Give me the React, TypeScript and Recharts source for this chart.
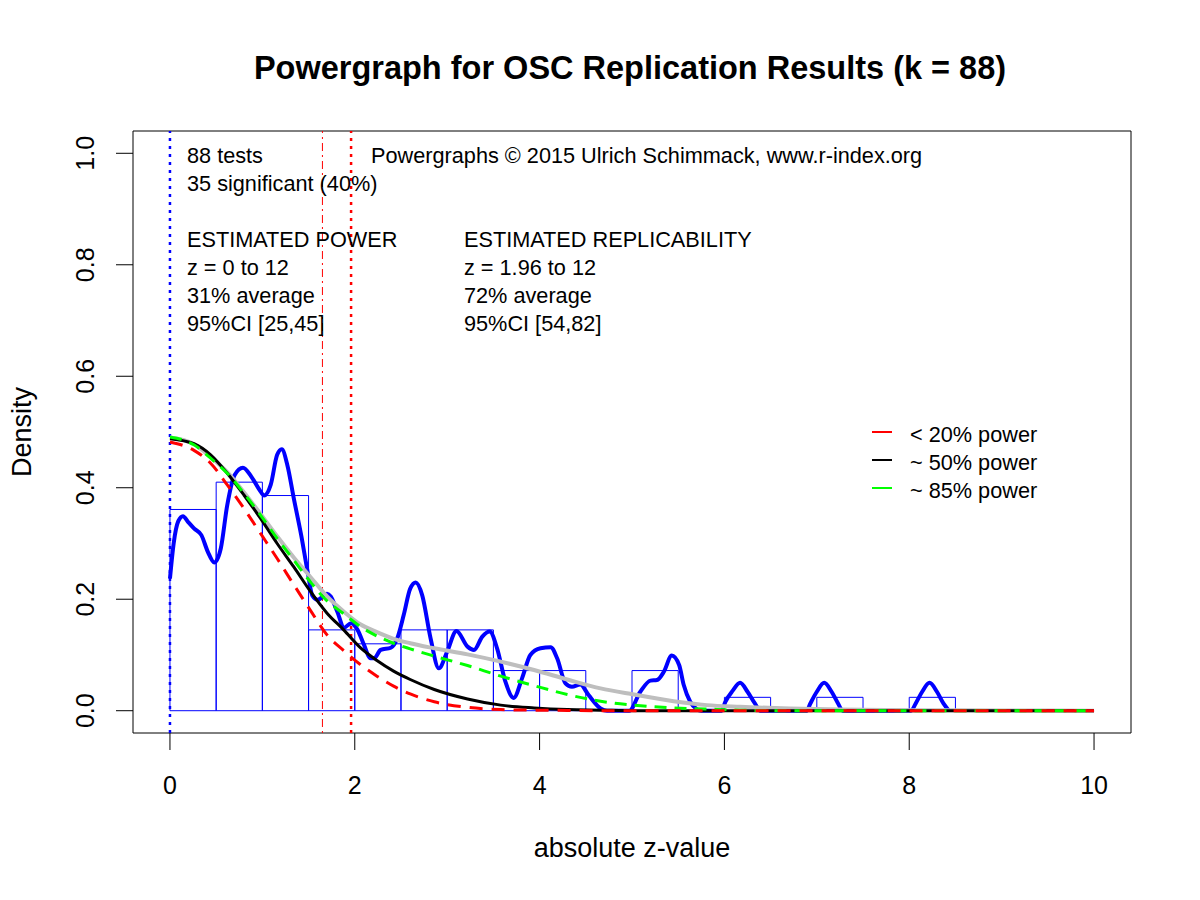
import { ComposedChart, Line, XAxis, YAxis, ReferenceArea, ReferenceLine } from "recharts";

// histogram of absolute z-values (bin width 0.5)
const binStarts = [0, 0.5, 1, 1.5, 2, 2.5, 3, 3.5, 4, 4.5, 5, 5.5, 6, 6.5, 7, 7.5, 8];
const binDensity = [
  0.361, 0.41, 0.386, 0.145, 0.12, 0.145, 0.145, 0.072, 0.072, 0, 0.072, 0, 0.024, 0, 0.024, 0, 0.024,
];

// model curves
const curveZ = [
  0, 0.26, 0.44, 0.62, 0.8, 0.98, 1.16, 1.34, 1.52, 1.7, 1.88, 2.06, 2.24, 2.42, 2.6, 2.86, 3.22,
  3.58, 3.94, 4.3, 4.66, 5.02, 5.45, 5.81, 6.17, 6.71, 7.25, 8, 9, 10,
];
const lowPower = [
  0.482, 0.467, 0.444, 0.405, 0.363, 0.318, 0.273, 0.226, 0.18, 0.136, 0.108, 0.083, 0.062, 0.044,
  0.03, 0.016, 0.006, 0.002, 0.001, 0.0005, 0, 0, 0, 0, 0, 0, 0, 0, 0, 0,
];
const midPower = [
  0.488, 0.479, 0.459, 0.426, 0.387, 0.345, 0.3, 0.258, 0.214, 0.175, 0.145, 0.113, 0.09, 0.071,
  0.056, 0.038, 0.021, 0.01, 0.005, 0.002, 0.001, 0, 0, 0, 0, 0, 0, 0, 0, 0,
];
const highPower = [
  0.491, 0.477, 0.453, 0.426, 0.39, 0.351, 0.309, 0.27, 0.231, 0.197, 0.174, 0.151, 0.134, 0.121,
  0.111, 0.098, 0.081, 0.062, 0.045, 0.029, 0.017, 0.01, 0.005, 0.003, 0.001, 0, 0, 0, 0, 0,
];
const fittedDensity = [
  0.49, 0.478, 0.455, 0.428, 0.392, 0.353, 0.313, 0.275, 0.24, 0.205, 0.178, 0.155, 0.141, 0.129,
  0.121, 0.112, 0.101, 0.088, 0.073, 0.056, 0.04, 0.029, 0.017, 0.01, 0.007, 0.004, 0.002, 0.001,
  0.0005, 0,
];

// kernel density of observed z-values
const kdeZ = [
  0, 0.04, 0.09, 0.14, 0.2, 0.26, 0.34, 0.41, 0.48, 0.55, 0.62, 0.7, 0.79, 0.88, 0.97, 1.02, 1.09,
  1.16, 1.21, 1.27, 1.34, 1.42, 1.49, 1.54, 1.6, 1.7, 1.74, 1.81, 1.885, 1.96, 2.03, 2.1, 2.17, 2.21,
  2.28, 2.39, 2.46, 2.53, 2.6, 2.66, 2.73, 2.82, 2.91, 3.0, 3.1, 3.22, 3.29, 3.38, 3.46, 3.54, 3.63,
  3.72, 3.81, 3.9, 4.01, 4.12, 4.19, 4.28, 4.35, 4.44, 4.53, 4.66, 4.73, 4.97, 5.09, 5.2, 5.27,
  5.345, 5.43, 5.51, 5.56, 5.63, 5.7, 5.75, 5.97, 6.01, 6.09, 6.17, 6.25, 6.33, 6.39, 6.89, 6.93,
  7.0, 7.08, 7.16, 7.23, 7.28, 8.02, 8.07, 8.14, 8.22, 8.3, 8.37, 8.43,
];
const kdeDensity = [
  0.237, 0.3, 0.34, 0.349, 0.338, 0.327, 0.315, 0.285, 0.266, 0.291, 0.369, 0.423, 0.436, 0.42,
  0.396, 0.386, 0.405, 0.459, 0.469, 0.441, 0.381, 0.315, 0.249, 0.207, 0.199, 0.21, 0.205, 0.178,
  0.149, 0.157, 0.145, 0.118, 0.094, 0.094, 0.109, 0.113, 0.13, 0.172, 0.219, 0.23, 0.207, 0.13,
  0.076, 0.106, 0.143, 0.115, 0.109, 0.133, 0.142, 0.112, 0.052, 0.023, 0.058, 0.1, 0.112, 0.114,
  0.094, 0.049, 0.043, 0.047, 0.028, 0.004, 0, 0, 0.034, 0.054, 0.055, 0.07, 0.099, 0.082, 0.046,
  0.016, 0.003, 0, 0, 0.016, 0.036, 0.05, 0.034, 0.013, 0, 0, 0.013, 0.034, 0.05, 0.034, 0.013, 0,
  0, 0.013, 0.034, 0.05, 0.034, 0.013, 0,
];

const xTicks = [0, 2, 4, 6, 8, 10];
const yTicks = [0, 0.2, 0.4, 0.6, 0.8, 1];

const leftNotes = ["ESTIMATED POWER", "z = 0 to 12", "31% average", "95%CI [25,45]"];
const rightNotes = ["ESTIMATED REPLICABILITY", "z = 1.96 to 12", "72% average", "95%CI [54,82]"];
const legendItems = [
  { label: "< 20% power", color: "#FF0000" },
  { label: "~ 50% power", color: "#000000" },
  { label: "~ 85% power", color: "#00FF00" },
];

const FONT = "'Liberation Sans', Arial, sans-serif";

const toSeries = (ys: number[]) => curveZ.map((z, i) => ({ z, y: ys[i] }));
const kdeData = kdeZ.map((z, i) => ({ z, y: kdeDensity[i] }));

const YTick = (props: any) => {
  const { x, y, payload } = props;
  return (
    <text
      x={x}
      y={y}
      transform={`rotate(-90 ${x} ${y})`}
      textAnchor="middle"
      dominantBaseline="central"
      fontSize={25}
      fontFamily={FONT}
      fill="#000"
    >
      {Number(payload.value).toFixed(1)}
    </text>
  );
};

export default function App() {
  return (
    <div style={{ position: "absolute", left: 0, top: 0, width: 1200, height: 900, background: "#fff" }}>
      <ComposedChart width={1200} height={900} margin={{ top: 131, right: 69, bottom: 0, left: 0 }}>
        <XAxis
          dataKey="z"
          type="number"
          domain={[-0.4, 10.4]}
          ticks={xTicks}
          allowDataOverflow
          height={167}
          axisLine={false}
          tickSize={17}
          tickMargin={26}
          tickLine={{ stroke: "#000" }}
          tick={{ fontSize: 25, fill: "#000", fontFamily: FONT }}
        />
        <YAxis
          type="number"
          domain={[-0.04, 1.04]}
          ticks={yTicks}
          allowDataOverflow
          width={133}
          axisLine={false}
          tickSize={17}
          tickMargin={31}
          tickLine={{ stroke: "#000" }}
          tick={<YTick />}
        />
        <ReferenceArea x1={-0.4} x2={10.4} y1={-0.04} y2={1.04} fill="none" stroke="#000" strokeWidth={1} />
        {binStarts.map((b, i) => (
          <ReferenceArea
            key={b}
            x1={b}
            x2={b + 0.5}
            y1={0}
            y2={binDensity[i]}
            fill="none"
            fillOpacity={0}
            stroke="#0000FF"
            strokeWidth={1}
          />
        ))}
        <ReferenceLine x={0} stroke="#0000FF" strokeWidth={2.5} strokeDasharray="3 5" />
        <ReferenceLine x={1.65} stroke="#FF0000" strokeWidth={1} strokeDasharray="2 4 8 4" />
        <ReferenceLine x={1.96} stroke="#FF0000" strokeWidth={2.5} strokeDasharray="3 5" />
        <Line data={kdeData} dataKey="y" type="monotone" stroke="#0000FF" strokeWidth={4} dot={false} activeDot={false} isAnimationActive={false} />
        <Line data={toSeries(fittedDensity)} dataKey="y" type="monotone" stroke="#BEBEBE" strokeWidth={4} dot={false} activeDot={false} isAnimationActive={false} />
        <Line data={toSeries(midPower)} dataKey="y" type="monotone" stroke="#000000" strokeWidth={3} dot={false} activeDot={false} isAnimationActive={false} />
        <Line data={toSeries(highPower)} dataKey="y" type="monotone" stroke="#00FF00" strokeWidth={3} strokeDasharray="12 8" dot={false} activeDot={false} isAnimationActive={false} />
        <Line data={toSeries(lowPower)} dataKey="y" type="monotone" stroke="#FF0000" strokeWidth={3} strokeDasharray="13 9" dot={false} activeDot={false} isAnimationActive={false} />
      </ComposedChart>
      <svg width={1200} height={900} style={{ position: "absolute", left: 0, top: 0, pointerEvents: "none" }} fontFamily={FONT}>
        <text x={630} y={68} textAnchor="middle" dominantBaseline="central" fontSize={32.5} fontWeight="bold">
          Powergraph for OSC Replication Results (k = 88)
        </text>
        <text x={632} y={848} textAnchor="middle" dominantBaseline="central" fontSize={27}>
          absolute z-value
        </text>
        <text x={22} y={432} transform="rotate(-90 22 432)" textAnchor="middle" dominantBaseline="central" fontSize={27}>
          Density
        </text>
        <g fontSize={21.7} dominantBaseline="central">
          <text x={187} y={155}>88 tests</text>
          <text x={187} y={183}>35 significant (40%)</text>
          <text x={371} y={155}>Powergraphs © 2015 Ulrich Schimmack, www.r-index.org</text>
          {leftNotes.map((t, i) => (
            <text key={t} x={187} y={239 + 28 * i}>{t}</text>
          ))}
          {rightNotes.map((t, i) => (
            <text key={t} x={464} y={239 + 28 * i}>{t}</text>
          ))}
          {legendItems.map((item, i) => (
            <g key={item.label}>
              <line x1={872} x2={892} y1={432 + 28 * i} y2={432 + 28 * i} stroke={item.color} strokeWidth={2} />
              <text x={910} y={434 + 28 * i}>{item.label}</text>
            </g>
          ))}
        </g>
      </svg>
    </div>
  );
}
